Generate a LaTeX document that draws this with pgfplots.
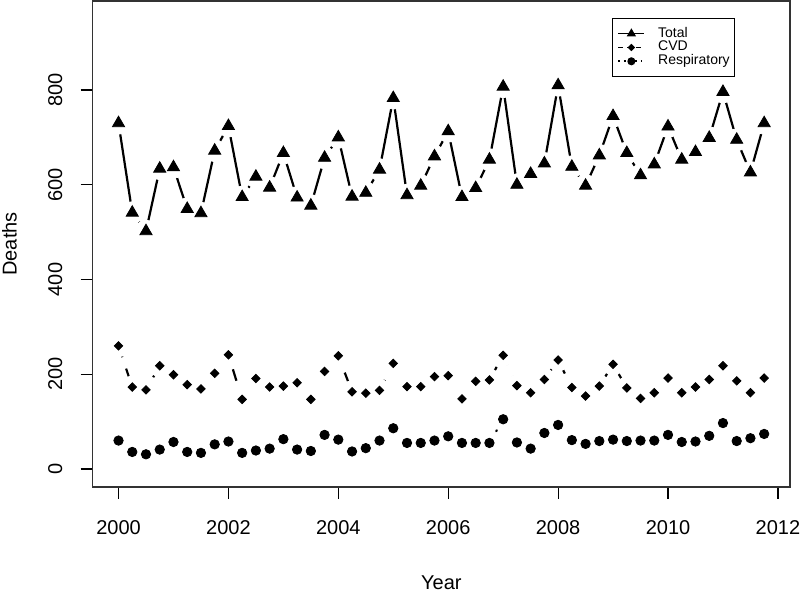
\documentclass[border=0pt]{standalone}
\usepackage{fontspec}
\setmainfont{Liberation Sans}
\usepackage{pgfplots}
\usepackage{pgfplotstable}
\pgfplotsset{compat=1.18}

% quarterly deaths
\pgfplotstableread{
year total cvd resp
2000.00 730 260 60
2000.25 541 173 36
2000.50 502 167 31
2000.75 634 218 41
2001.00 637 199 57
2001.25 549 178 36
2001.50 540 169 34
2001.75 672 202 52
2002.00 724 241 58
2002.25 574 147 34
2002.50 617 191 39
2002.75 594 173 43
2003.00 667 175 63
2003.25 573 182 41
2003.50 556 147 38
2003.75 657 206 72
2004.00 700 239 62
2004.25 575 163 37
2004.50 583 160 44
2004.75 632 166 60
2005.00 783 223 86
2005.25 578 174 55
2005.50 598 174 55
2005.75 660 195 60
2006.00 713 197 69
2006.25 574 148 55
2006.50 593 185 55
2006.75 653 188 55
2007.00 807 240 105
2007.25 600 176 56
2007.50 623 161 43
2007.75 645 189 76
2008.00 810 230 93
2008.25 638 172 61
2008.50 598 154 53
2008.75 662 175 59
2009.00 745 221 62
2009.25 667 171 59
2009.50 620 149 60
2009.75 643 161 60
2010.00 723 192 72
2010.25 653 161 57
2010.50 669 173 58
2010.75 699 189 70
2011.00 796 218 97
2011.25 695 186 59
2011.50 626 161 65
2011.75 730 192 74
}\deaths

\begin{document}
\begin{tikzpicture}
\path[use as bounding box] (0pt,0pt) rectangle (400pt,297pt);
\begin{axis}[
    at={(46.35pt,53.5pt)}, anchor=south west,
    width=348.65pt, height=243pt, scale only axis,
    xmin=1999.53, xmax=2012.22,
    ymin=-38, ymax=988,
    xtick={2000,2002,...,2012},
    ytick={0,200,...,800},
    xtick pos=left, ytick pos=left,
    tick align=outside,
    major tick length=6pt,
    tick style={black, line width=0.6pt},
    axis line style={black!80, line width=0.6pt},
    /pgf/number format/assume math mode=true,
    /pgf/number format/1000 sep={},
    xticklabel style={anchor=north, inner sep=0pt, yshift=-10.5pt},
    yticklabel style={rotate=90, anchor=south, inner sep=0pt, yshift=9pt},
    xlabel={Year},
    ylabel={Deaths},
    xlabel style={at={(axis description cs:0.5,0)}, anchor=base, inner sep=0pt, yshift=-51.5pt},
    ylabel style={at={(axis description cs:0,0.5)}, anchor=base, inner sep=0pt, yshift=38pt},
    legend style={
        at={(axis description cs:0.7447,0.965)}, anchor=north west,
        draw=black, line width=0.6pt,
        font=\fontsize{7}{8}\selectfont,
        inner xsep=2.5pt, inner ysep=4.3pt,
        row sep=0.4pt,
        nodes={inner sep=0pt, text height=5pt, text depth=1.5pt},
        /tikz/every odd column/.append style={column sep=6.5pt},
    },
    legend cell align=left,
    legend image code/.code={
        \draw[mark repeat=2, mark phase=2, #1]
            plot coordinates {(0pt,0pt) (6.5pt,0pt) (13pt,0pt)};
    },
]
% connecting lines
\addplot[black, line width=1.1pt, line cap=round, forget plot]
    table[x=year, y=total] {\deaths};
\addplot[black, line width=1.1pt, dash pattern=on 6pt off 6pt, forget plot]
    table[x=year, y=cvd] {\deaths};
\addplot[black, line width=1.1pt, line cap=round, dash pattern=on 0.6pt off 5pt, forget plot]
    table[x=year, y=resp] {\deaths};

% gaps round the points, as in type="b"
\addplot[only marks, mark=*, mark size=5.5pt, white, forget plot]
    table[x=year, y=total] {\deaths};
\addplot[only marks, mark=*, mark size=5.5pt, white, forget plot]
    table[x=year, y=cvd] {\deaths};
\addplot[only marks, mark=*, mark size=5.5pt, white, forget plot]
    table[x=year, y=resp] {\deaths};

% points
\addplot[only marks, mark=triangle*, mark size=3.5pt, black, forget plot]
    table[x=year, y=total] {\deaths};
\addplot[only marks, mark=square*, mark size=1.5pt, mark options={rotate=45}, black, forget plot]
    table[x=year, y=cvd] {\deaths};
\addplot[only marks, mark=*, mark size=2.35pt, black, forget plot]
    table[x=year, y=resp] {\deaths};

\addlegendimage{black, line width=0.8pt, mark=triangle*, mark size=1.9pt}
\addlegendentry{Total}
\addlegendimage{black, line width=0.8pt, dash pattern=on 2.5pt off 2pt, mark=square*, mark size=0.9pt, mark options={rotate=45, solid}}
\addlegendentry{CVD}
\addlegendimage{black, line width=0.8pt, dash pattern=on 0.8pt off 2pt, mark=*, mark size=1.6pt, mark options={solid}}
\addlegendentry{Respiratory}
\end{axis}
\end{tikzpicture}
\end{document}
